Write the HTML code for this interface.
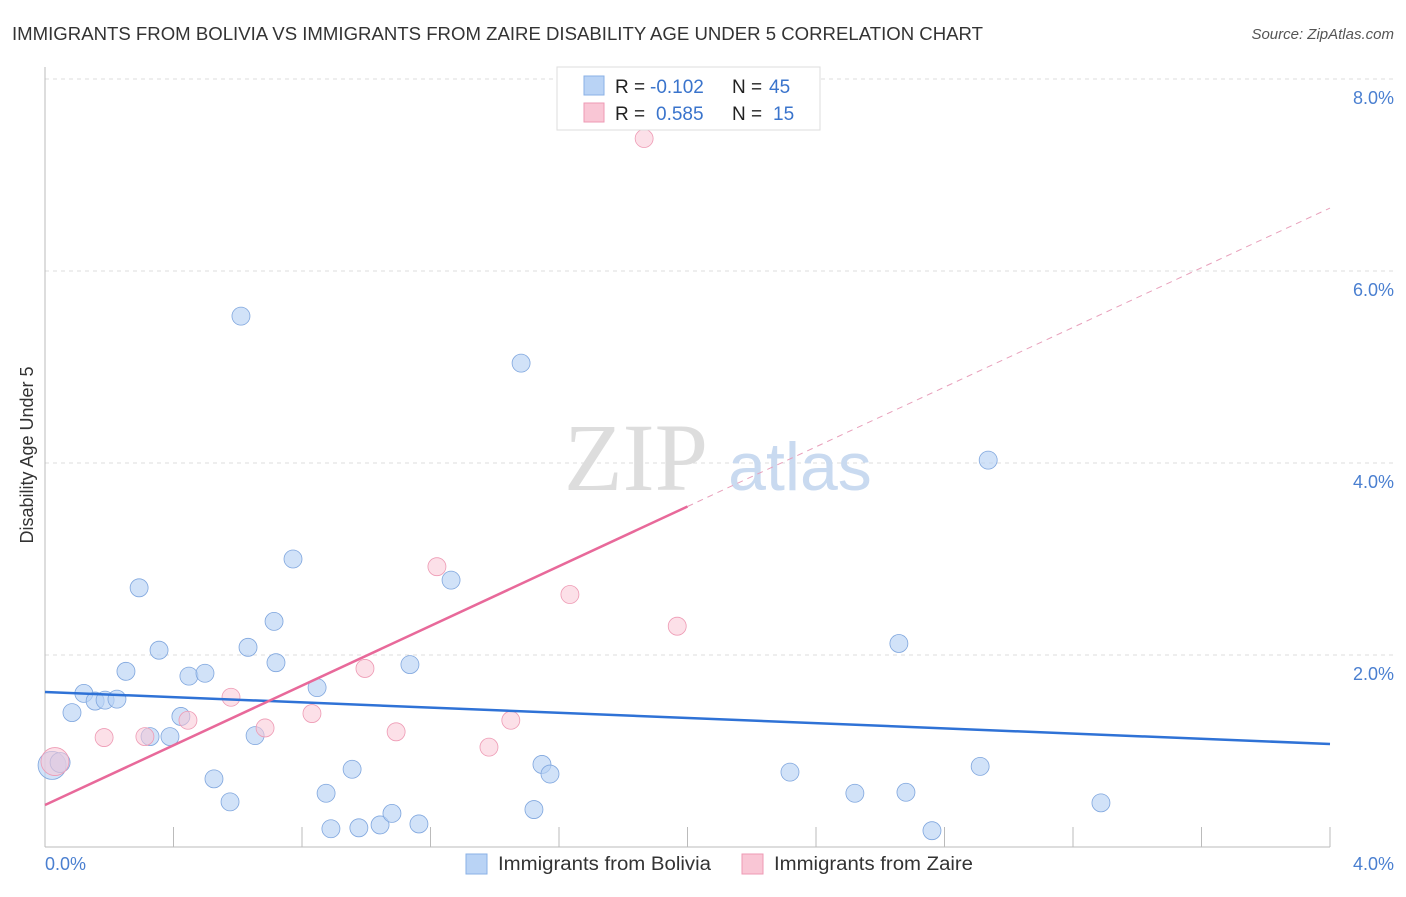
<!DOCTYPE html>
<html><head><meta charset="utf-8"><style>
body{margin:0;background:#fff;font-family:"Liberation Sans",sans-serif}
svg text{font-family:"Liberation Sans",sans-serif}
</style></head><body>
<svg width="1406" height="892">
<text x="12" y="40" font-size="18" fill="#333" textLength="971" lengthAdjust="spacingAndGlyphs">IMMIGRANTS FROM BOLIVIA VS IMMIGRANTS FROM ZAIRE DISABILITY AGE UNDER 5 CORRELATION CHART</text>
<text x="1394" y="39" font-size="15" fill="#555" font-style="italic" text-anchor="end">Source: ZipAtlas.com</text>
<g id="grid"></g>
<g id="axes"></g>
<text x="636" y="490" font-size="96" fill="#ddd" text-anchor="middle" style="font-family:'Liberation Serif',serif">ZIP</text>
<text x="800" y="490" font-size="68" fill="#c9daf0" text-anchor="middle">atlas</text>
<g id="pts"></g>
<g id="trends"></g>
<text x="33" y="455" font-size="18" fill="#333" text-anchor="middle" transform="rotate(-90 33 455)">Disability Age Under 5</text>
<text x="45" y="870" font-size="18" fill="#4a7fd0">0.0%</text>
<text x="1394" y="870" font-size="18" fill="#4a7fd0" text-anchor="end">4.0%</text>
<g>
<rect x="557" y="67" width="263" height="63" fill="#fff" stroke="#ddd"/>
<rect x="584" y="76" width="20" height="19" fill="#b9d3f5" stroke="#8ab0e6"/>
<rect x="584" y="103" width="20" height="19" fill="#f9c6d5" stroke="#ee9ab4"/>
<text x="615" y="93" font-size="19" fill="#222">R = <tspan x="650" fill="#3a74cc">-0.102</tspan><tspan x="732">N = </tspan><tspan x="769" fill="#3a74cc">45</tspan></text>
<text x="615" y="120" font-size="19" fill="#222">R = <tspan x="656" fill="#3a74cc">0.585</tspan><tspan x="732">N = </tspan><tspan x="773" fill="#3a74cc">15</tspan></text>
</g>
<g>
<rect x="466" y="854" width="21" height="20" fill="#b9d3f5" stroke="#8ab0e6"/>
<text x="498" y="870" font-size="19" fill="#333" textLength="213" lengthAdjust="spacingAndGlyphs">Immigrants from Bolivia</text>
<rect x="742" y="854" width="21" height="20" fill="#f9c6d5" stroke="#ee9ab4"/>
<text x="774" y="870" font-size="19" fill="#333" textLength="199" lengthAdjust="spacingAndGlyphs">Immigrants from Zaire</text>
</g>
</svg>
<script>
const yTicks=[2,4,6,8];
const yTickLabels=["2.0%","4.0%","6.0%","8.0%"];
const xTicks=[0.4,0.8,1.2,1.6,2.0,2.4,2.8,3.2,3.6,4.0];
const boliviaX=[0.022,0.047,0.084,0.121,0.156,0.187,0.224,0.252,0.293,0.327,0.355,0.389,0.423,0.448,0.498,0.526,0.576,0.610,0.632,0.654,0.713,0.719,0.772,0.847,0.875,0.890,0.956,0.977,1.043,1.080,1.136,1.164,1.264,1.482,1.522,1.547,1.572,2.319,2.521,2.658,2.680,2.761,2.911,2.936,3.287];
const boliviaY=[0.85,0.88,1.40,1.60,1.52,1.53,1.54,1.83,2.70,1.15,2.05,1.15,1.36,1.78,1.81,0.71,0.47,5.53,2.08,1.16,2.35,1.92,3.00,1.66,0.56,0.19,0.81,0.20,0.23,0.35,1.90,0.24,2.78,5.04,0.39,0.86,0.76,0.78,0.56,2.12,0.57,0.17,0.84,4.03,0.46];
const boliviaR=[14,10,9,9,9,9,9,9,9,9,9,9,9,9,9,9,9,9,9,9,9,9,9,9,9,9,9,9,9,9,9,9,9,9,9,9,9,9,9,9,9,9,9,9,9];
const zaireX=[0.031,0.184,0.311,0.445,0.579,0.685,0.831,0.996,1.093,1.220,1.382,1.450,1.634,1.865,1.968];
const zaireY=[0.89,1.14,1.15,1.32,1.56,1.24,1.39,1.86,1.20,2.92,1.04,1.32,2.63,7.38,2.30];
const zaireR=[14,9,9,9,9,9,9,9,9,9,9,9,9,9,9];
const trendBolivia=[1.615,1.073];
const trendZaire=[0.4375,6.656];
const zaireSolidEnd=2.0;
const NS="http://www.w3.org/2000/svg";
const X=v=>45+v*321.25, Y=v=>847-v*96;
function mk(p,t,a){const e=document.createElementNS(NS,t);for(const k in a)e.setAttribute(k,a[k]);p.appendChild(e);return e;}
const grid=document.getElementById('grid');
yTicks.forEach((t,i)=>{
 const l=mk(grid,'line',{x1:45,x2:1394,y1:Y(t),y2:Y(t),stroke:'#ddd','stroke-dasharray':'4,4'});
 
 
 const tx=mk(grid,'text',{x:1394,y:Y(t)+25,'font-size':18,fill:'#4a7fd0','text-anchor':'end'});
 tx.textContent=yTickLabels[i];
 
 
});
const ax=document.getElementById('axes');
mk(ax,'line',{x1:45,x2:45,y1:67,y2:847,stroke:'#bbb'});
mk(ax,'line',{x1:45,x2:1330,y1:847,y2:847,stroke:'#bbb'});
xTicks.forEach(t=>{const l=mk(ax,'line',{x1:X(t),x2:X(t),y1:827,y2:847,stroke:'#bbb'});
 
 });
const pts=document.getElementById('pts');
boliviaX.forEach((x,i)=>{const c=mk(pts,'circle',{cx:X(x),cy:Y(boliviaY[i]),r:boliviaR[i],fill:'#b9d3f5','fill-opacity':0.65,stroke:'#7fa6de','stroke-width':0.8});
 
 });
zaireX.forEach((x,i)=>{const c=mk(pts,'circle',{cx:X(x),cy:Y(zaireY[i]),r:zaireR[i],fill:'#f9c6d5','fill-opacity':0.55,stroke:'#ee9ab4','stroke-width':0.8});
 
 });
const tr=document.getElementById('trends');
const b=mk(tr,'line',{x1:X(0),y1:Y(trendBolivia[0]),x2:X(4),y2:Y(trendBolivia[1]),stroke:'#2f72d6','stroke-width':2.5});


const zy=x=>trendZaire[0]+(trendZaire[1]-trendZaire[0])*x/4;
const z1=mk(tr,'line',{x1:X(0),y1:Y(zy(0)),x2:X(zaireSolidEnd),y2:Y(zy(zaireSolidEnd)),stroke:'#e8699a','stroke-width':2.5});


const z2=mk(tr,'line',{x1:X(zaireSolidEnd),y1:Y(zy(zaireSolidEnd)),x2:X(4),y2:Y(zy(4)),stroke:'#e8a0bb','stroke-width':1,'stroke-dasharray':'6,5'});


</script>
</body></html>
